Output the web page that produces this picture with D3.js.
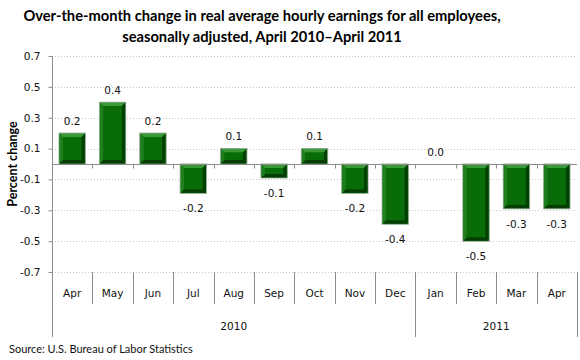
<!DOCTYPE html>
<html>
<head>
<meta charset="utf-8">
<script src="https://cdn.jsdelivr.net/npm/d3@7/dist/d3.min.js"></script>
<style>
  html, body { margin: 0; padding: 0; background: #fff; }
  svg { display: block; }
</style>
</head>
<body>
<svg id="chart" width="580" height="360"></svg>
<script>
// ---- data ----
const months = ["Apr","May","Jun","Jul","Aug","Sep","Oct","Nov","Dec","Jan","Feb","Mar","Apr"];
const monthYears = ["2010","2010","2010","2010","2010","2010","2010","2010","2010","2011","2011","2011","2011"];
const values = [0.2, 0.4, 0.2, -0.19, 0.1, -0.09, 0.1, -0.19, -0.39, 0.0, -0.5, -0.29, -0.29];
const yTicks = [0.7, 0.5, 0.3, 0.1, -0.1, -0.3, -0.5, -0.7];
const yearLabels = ["2010", "2011"];
const titleLines = ["Over-the-month change in real average hourly earnings for all employees,",
                    "seasonally adjusted, April 2010\u2013April 2011"];
const yAxisTitle = "Percent change";
const sourceText = "Source: U.S. Bureau of Labor Statistics";

// ---- layout ----
const svg = d3.select("#chart");
const L = 52, R = 577, T = 56, B = 272;
const catBottom = 304, yearBottom = 337;
const keys = months.map((m, i) => m + " " + monthYears[i]);

const x = d3.scaleBand().domain(keys).range([L, R]).paddingInner(0.35).paddingOuter(0.175);
const y = d3.scaleLinear().domain([-0.7, 0.7]).range([B, T]);
const step = x.step();
const bw = x.bandwidth();

const fmt = d3.formatLocale({decimal: ".", thousands: ",", grouping: [3], currency: ["$", ""], minus: "-"}).format(".1f");
const labelFont = "'DejaVu Sans', sans-serif";
const axisColor = "#8c8c8c";

// title
svg.append("g").selectAll("text").data(titleLines).join("text")
  .attr("x", 262).attr("y", (d, i) => 21 + i * 21)
  .attr("text-anchor", "middle")
  .attr("font-family", "Lato, 'Open Sans', sans-serif")
  .attr("font-weight", 700)
  .attr("font-size", 14.7)
  .attr("fill", "#000")
  .text(d => d);

// gridlines
svg.append("g").selectAll("line").data(yTicks).join("line")
  .attr("x1", L).attr("x2", R)
  .attr("y1", d => Math.round(y(d)) + 0.5).attr("y2", d => Math.round(y(d)) + 0.5)
  .attr("stroke", "#c8c8c8").attr("stroke-width", 1)
  .attr("stroke-dasharray", "1,2");

// y axis
const yAxis = d3.axisLeft(y).tickValues(yTicks).tickSize(4).tickPadding(8).tickFormat(fmt);
const gy = svg.append("g").attr("transform", `translate(${L + 0.5},0)`).call(yAxis);
gy.select(".domain").remove();
gy.selectAll(".tick line").attr("stroke", axisColor);
gy.selectAll(".tick text").attr("font-family", labelFont).attr("font-size", 10.5).attr("fill", "#111");
svg.append("line").attr("x1", L + 0.5).attr("x2", L + 0.5).attr("y1", T).attr("y2", yearBottom)
  .attr("stroke", axisColor);

// y axis title
svg.append("text")
  .attr("transform", `translate(16.5,164) rotate(-90)`)
  .attr("text-anchor", "middle")
  .attr("font-family", "Lato, sans-serif").attr("font-weight", 700).attr("font-size", 12.5)
  .attr("fill", "#000")
  .text(yAxisTitle);

// bars with bevel
const bars = svg.append("g");
values.forEach((v, i) => {
  const x0 = x(keys[i]), x1 = x0 + bw;
  const y0 = y(Math.max(v, 0)), y1 = y(Math.min(v, 0));
  const h = y1 - y0;
  if (h < 0.5) return;
  const g = bars.append("g");
  const b = Math.min(3.5, h / 2);
  g.append("rect").attr("x", x0).attr("y", y0).attr("width", bw).attr("height", h)
    .attr("fill", "#0a6a0a").attr("stroke", "#8faa8f").attr("stroke-width", 1);
  const poly = pts => g.append("polygon").attr("points", pts.map(p => p.join(",")).join(" "));
  const ix0 = x0 + 0.5, ix1 = x1 - 0.5, iy0 = y0 + 0.5, iy1 = y1 - 0.5;
  poly([[ix0, iy0], [ix1, iy0], [ix1 - b, iy0 + b], [ix0 + b, iy0 + b]]).attr("fill", "#3a9a3a");
  poly([[ix0, iy0], [ix0 + b, iy0 + b], [ix0 + b, iy1 - b], [ix0, iy1]]).attr("fill", "#1f7f1f");
  poly([[ix1, iy0], [ix1, iy1], [ix1 - b, iy1 - b], [ix1 - b, iy0 + b]]).attr("fill", "#024002");
  poly([[ix0, iy1], [ix0 + b, iy1 - b], [ix1 - b, iy1 - b], [ix1, iy1]]).attr("fill", "#053d05");
  g.append("rect").attr("x", ix0 + b).attr("y", iy0 + b)
    .attr("width", Math.max(0, ix1 - ix0 - 2 * b)).attr("height", Math.max(0, iy1 - iy0 - 2 * b))
    .attr("fill", "#086c08");
});

// zero line with ticks at category boundaries
const y0px = Math.round(y(0)) + 0.5;
svg.append("line").attr("x1", L).attr("x2", R).attr("y1", y0px).attr("y2", y0px)
  .attr("stroke", axisColor).attr("stroke-width", 1);
const boundaries = d3.range(1, keys.length).map(i => L + i * step);
svg.append("g").selectAll("line").data(boundaries).join("line")
  .attr("x1", d => Math.round(d) + 0.5).attr("x2", d => Math.round(d) + 0.5)
  .attr("y1", y0px).attr("y2", y0px + 4)
  .attr("stroke", axisColor);

// data labels
svg.append("g").selectAll("text").data(values).join("text")
  .attr("x", (d, i) => x(keys[i]) + bw / 2)
  .attr("y", d => d >= 0 ? y(d) - 12 : y(d) + 15)
  .attr("dy", "0.36em")
  .attr("text-anchor", "middle")
  .attr("font-family", labelFont).attr("font-size", 10.5).attr("fill", "#111")
  .text(d => fmt(d));

// category axis separators
const yearBoundaryIdx = monthYears.findIndex(yy => yy !== monthYears[0]);
svg.append("g").selectAll("line").data(d3.range(1, keys.length + 1)).join("line")
  .attr("x1", i => Math.round(L + i * step) + 0.5).attr("x2", i => Math.round(L + i * step) + 0.5)
  .attr("y1", B)
  .attr("y2", i => (i === yearBoundaryIdx || i === keys.length) ? yearBottom : catBottom)
  .attr("stroke", axisColor);

// month labels
svg.append("g").selectAll("text").data(months).join("text")
  .attr("x", (d, i) => x(keys[i]) + bw / 2)
  .attr("y", 293).attr("dy", "0.36em")
  .attr("text-anchor", "middle")
  .attr("font-family", labelFont).attr("font-size", 10.5).attr("fill", "#111")
  .text(d => d);

// year labels
svg.append("g").selectAll("text").data(yearLabels).join("text")
  .attr("x", yy => {
    const idx = monthYears.map((m, i) => m === yy ? i : -1).filter(i => i >= 0);
    return (L + idx[0] * step + L + (idx[idx.length - 1] + 1) * step) / 2;
  })
  .attr("y", 326).attr("dy", "0.36em")
  .attr("text-anchor", "middle")
  .attr("font-family", labelFont).attr("font-size", 10.5).attr("fill", "#111")
  .text(d => d);

// source
svg.append("text").attr("x", 9).attr("y", 352.5)
  .attr("font-family", "Lato, sans-serif").attr("font-size", 11).attr("fill", "#111")
  .text(sourceText);
</script>
</body>
</html>
